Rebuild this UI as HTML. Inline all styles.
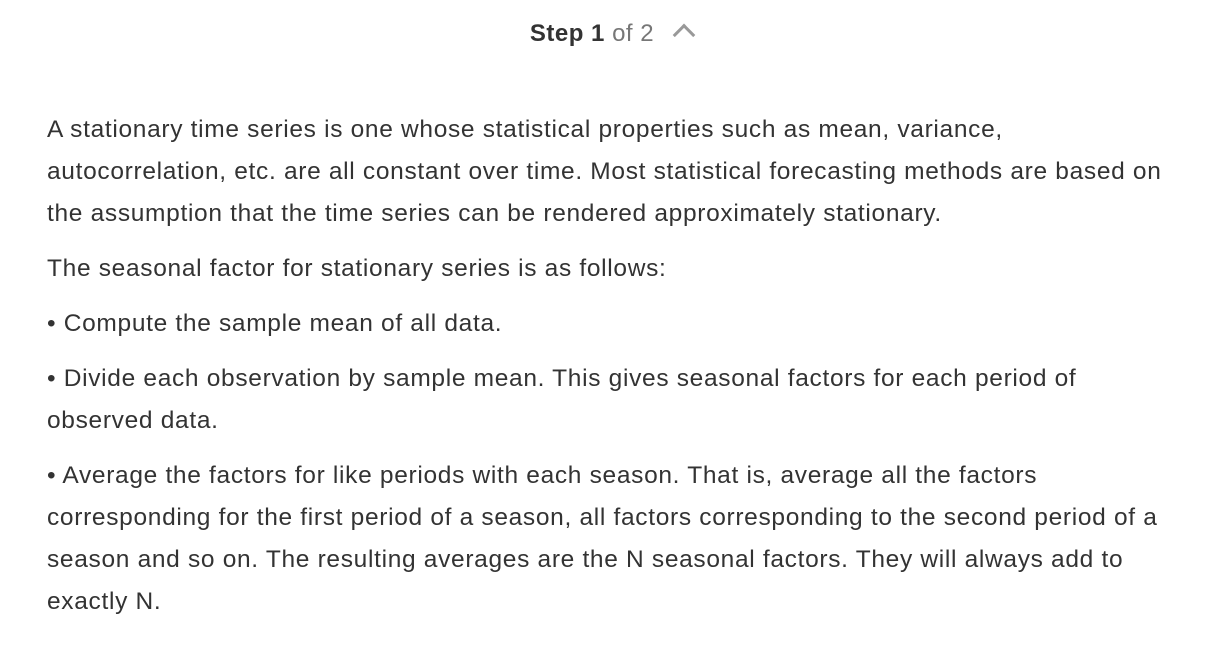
<!DOCTYPE html>
<html><head><meta charset="utf-8"><style>
body{margin:0;width:1230px;height:659px;background:#fff;overflow:hidden;font-family:"Liberation Sans",Arial,sans-serif;color:#333;}
.hdr{position:absolute;top:18px;left:-4px;width:1230px;text-align:center;font-size:24px;line-height:32px;letter-spacing:0.5px;}
.hdr b{color:#333;}
.hdr .of{color:#777;}
.chev{display:inline-block;width:13px;height:13px;border-left:3px solid #999;border-top:3px solid #999;transform:rotate(45deg);margin-left:22px;position:relative;top:2px;}
.body{position:absolute;left:47px;top:109px;width:1180px;font-size:24.5px;line-height:42px;letter-spacing:0.68px;white-space:nowrap;}
.body p{margin:0 0 13px 0;}
</style></head><body>
<div class="hdr"><b>Step 1</b> <span class="of">of 2</span><span class="chev"></span></div>
<div class="body">
<p>A stationary time series is one whose statistical properties such as mean, variance,<br>autocorrelation, etc. are all constant over time. Most statistical forecasting methods are based on<br>the assumption that the time series can be rendered approximately stationary.</p>
<p>The seasonal factor for stationary series is as follows:</p>
<p>• Compute the sample mean of all data.</p>
<p>• Divide each observation by sample mean. This gives seasonal factors for each period of<br>observed data.</p>
<p>• Average the factors for like periods with each season. That is, average all the factors<br>corresponding for the first period of a season, all factors corresponding to the second period of a<br>season and so on. The resulting averages are the N seasonal factors. They will always add to<br>exactly N.</p>
</div>
</body></html>
